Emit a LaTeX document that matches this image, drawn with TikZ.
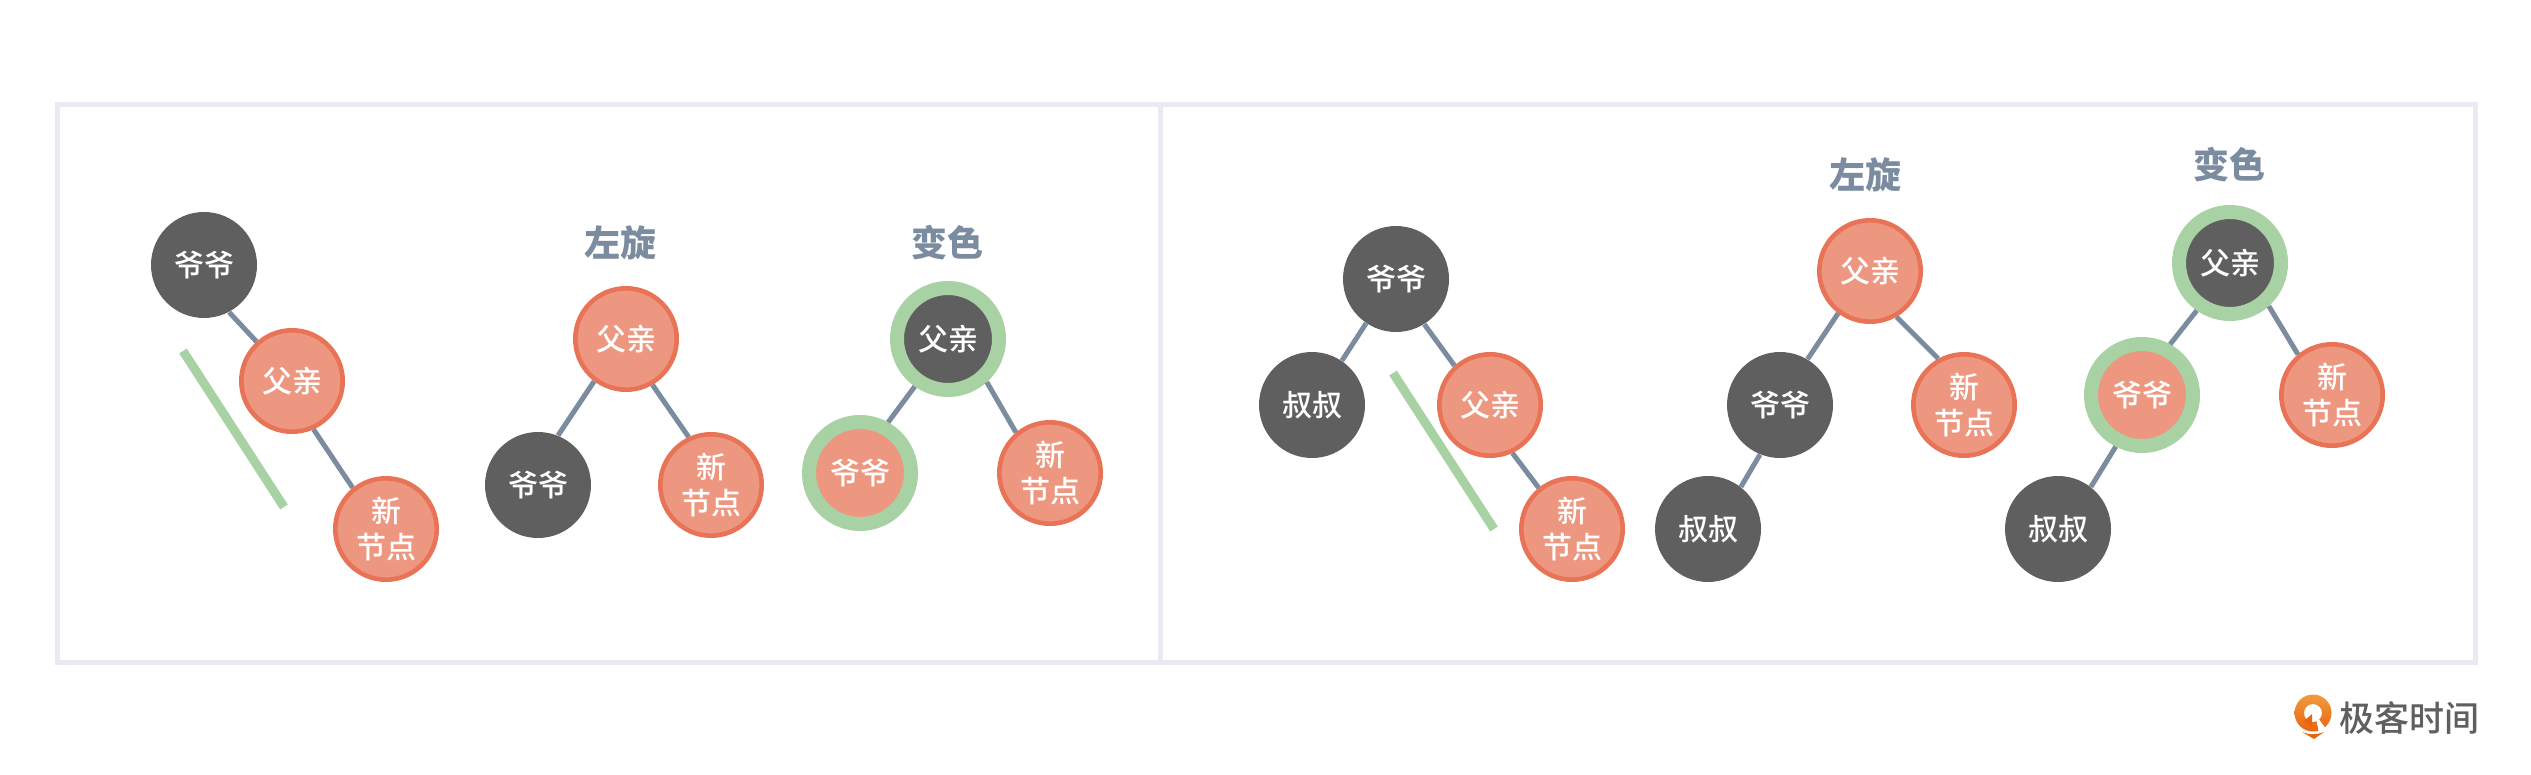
\documentclass[tikz,border=0pt]{standalone}
\usepackage{fontspec}
\setmainfont{Noto Sans CJK SC}
\newfontfamily\nodefont{Noto Sans CJK SC Medium}
\definecolor{nodedark}{HTML}{5F5F5F}
\definecolor{nodered}{HTML}{EE9780}
\definecolor{edgered}{HTML}{E87356}
\definecolor{ringgreen}{HTML}{A8D1A4}
\definecolor{linegrey}{HTML}{7C8CA0}
\definecolor{framegrey}{HTML}{ECE9F2}
\definecolor{logotop}{HTML}{F29A3E}
\definecolor{logolow}{HTML}{E8650F}
\tikzset{
    x=0.5pt,y=-0.5pt,
    tnode/.style={circle,inner sep=0pt,text=white,align=center,
        font=\fontsize{15}{18.3}\selectfont\nodefont},
    blacknode/.style={tnode,fill=nodedark,minimum size=53pt},
    rednode/.style={tnode,fill=nodered,draw=edgered,line width=2.3pt,minimum size=50.7pt},
    ringblack/.style={tnode,fill=nodedark,draw=ringgreen,line width=7pt,minimum size=51pt},
    ringred/.style={tnode,fill=nodered,draw=ringgreen,line width=7pt,minimum size=51pt},
    treeline/.style={linegrey,line width=2.5pt},
    markbar/.style={ringgreen,line width=4.5pt},
    steplabel/.style={text=linegrey,font=\fontsize{18}{18}\selectfont\bfseries},
}
\begin{document}
\begin{tikzpicture}
    \useasboundingbox (0,0) rectangle (2531,775);
    \draw[framegrey,line width=2.5pt] (57,105) rectangle (2475,662); % outer frame
    \draw[framegrey,line width=2.5pt] (1160,105) -- (1160,662); % divider

    % left panel, first tree
    \node[blacknode] (ga) at (204,265) {爷爷};
    \node[rednode] (fa) at (292,381) {父亲};
    \node[rednode] (na) at (386,529) {新\\节点};
    \draw[treeline] (ga.-62) -- (fa.132);
    \draw[treeline] (fa.-66) -- (na.129);
    \coordinate (barAs) at (183,351);
    \coordinate (barAe) at (284,507);
    \draw[markbar] (barAs) -- (barAe); % straight line mark

    % left panel, after rotation
    \node[steplabel] (rotA) at (620,243) {左旋};
    \node[rednode] (fb) at (626,339) {父亲};
    \node[blacknode] (gb) at (538,485) {爷爷};
    \node[rednode] (nb) at (711,485) {新\\节点};
    \draw[treeline] (fb.-127) -- (gb.68);
    \draw[treeline] (fb.-60) -- (nb.115);

    % left panel, after recolour
    \node[steplabel] (colA) at (947,243) {变色};
    \node[ringblack] (fc) at (948,339) {父亲};
    \node[ringred] (gc) at (860,473) {爷爷};
    \node[rednode] (nc) at (1050,473) {新\\节点};
    \draw[treeline] (fc.-125) -- (gc.61);
    \draw[treeline] (fc.-48) -- (nc.130);

    % right panel, first tree
    \node[blacknode] (gd) at (1396,279) {爷爷};
    \node[blacknode] (ud) at (1312,405) {叔叔};
    \node[rednode] (fd) at (1490,405) {父亲};
    \node[rednode] (nd) at (1572,529) {新\\节点};
    \draw[treeline] (gd.-124) -- (ud.56);
    \draw[treeline] (gd.-58) -- (fd.132);
    \draw[treeline] (fd.-65) -- (nd.129);
    \coordinate (barDs) at (1393,373);
    \coordinate (barDe) at (1494,529);
    \draw[markbar] (barDs) -- (barDe); % straight line mark

    % right panel, after rotation
    \node[steplabel] (rotB) at (1865,175) {左旋};
    \node[rednode] (fe) at (1870,271) {父亲};
    \node[blacknode] (ge) at (1780,405) {爷爷};
    \node[rednode] (ne) at (1964,405) {新\\节点};
    \node[blacknode] (ue) at (1708,529) {叔叔};
    \draw[treeline] (fe.-127) -- (ge.59);
    \draw[treeline] (fe.-60) -- (ne.119);
    \draw[treeline] (ge.-112) -- (ue.52);

    % right panel, after recolour
    \node[steplabel] (colB) at (2229,165) {变色};
    \node[ringblack] (ff) at (2230,263) {父亲};
    \node[ringred] (gf) at (2142,395) {爷爷};
    \node[rednode] (nf) at (2332,395) {新\\节点};
    \node[blacknode] (uf) at (2058,529) {叔叔};
    \draw[treeline] (ff.-125) -- (gf.61);
    \draw[treeline] (ff.-48) -- (nf.130);
    \draw[treeline] (gf.-117) -- (uf.52);

    % logo
    \path[top color=logotop,bottom color=logolow,even odd rule]
        (2313,713) circle (18.5) (2313,713) circle (9);
    \fill[white] (2315,714) -- (2319,733) -- (2326,729) -- cycle; % gap in the ring
    \fill[logolow] (2304,721) -- (2312,714) -- (2312,727) -- cycle;
    \fill[logolow] (2302,732) .. controls (2309,735) and (2317,735) .. (2324,732)
        -- (2314,739) -- cycle;
    \node[text=nodedark,font=\fontsize{17.5}{18}\selectfont\nodefont] (logotext) at (2409.5,718) {极客时间};
\end{tikzpicture}
\end{document}
